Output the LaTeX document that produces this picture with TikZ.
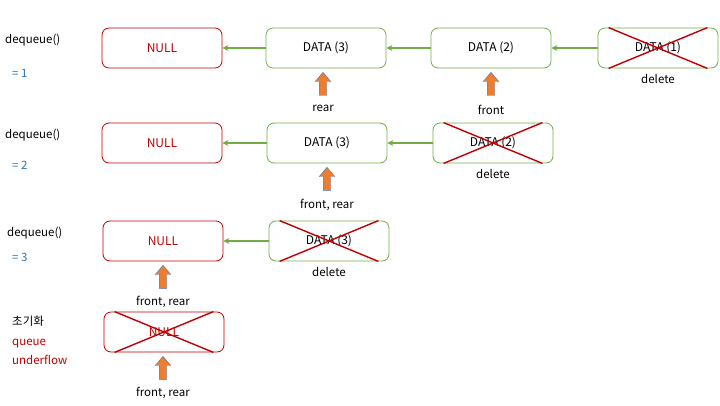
\documentclass[tikz,border=0pt]{standalone}
\usepackage{fontspec}
\setmainfont{Noto Sans CJK KR}
\usetikzlibrary{positioning,shapes.arrows,arrows.meta}
\definecolor{nullred}{HTML}{C00000}
\definecolor{datagreen}{HTML}{70AD47}
\definecolor{ptrorange}{HTML}{ED7D31}
\definecolor{ptrblue}{HTML}{4F72A8}
\definecolor{cntblue}{HTML}{2E75B6}

\tikzset{
  cell/.style={draw, rounded corners=7pt, minimum width=120pt, minimum height=40pt,
    line width=0.8pt, font=\fontsize{12}{14}\selectfont},
  nullcell/.style={cell, draw=nullred, text=nullred},
  datacell/.style={cell, draw=datagreen},
  link/.style={-{Stealth[length=6pt,width=6pt]}, draw=datagreen, line width=1.6pt},
  ptr/.style={single arrow, shape border rotate=90, draw=ptrblue, fill=ptrorange,
    minimum height=23pt, minimum width=15pt, inner sep=3.5pt,
    single arrow head extend=4pt, single arrow tip angle=80},
  tag/.style={font=\fontsize{11.5}{13}\selectfont, inner sep=1pt},
  side/.style={anchor=west, font=\fontsize{11.5}{13}\selectfont, inner sep=0pt},
}
\newcommand{\crossbox}[1]{%
  \draw[nullred, line width=1.4pt] ([xshift=11pt]#1.north west) -- ([xshift=-11pt]#1.south east)
    ([xshift=-11pt]#1.north east) -- ([xshift=11pt]#1.south west);}

\begin{document}
\begin{tikzpicture}[x=1pt, y=-1pt]
  \useasboundingbox (0,0) rectangle (720,405);
  % dequeue 1
  \node[side] (deqA) at (5,40) {dequeue()};
  \node[side, text=cntblue] (cntA) at (12,73) {= 1};
  \node[nullcell] (nullA) at (162,48) {NULL};
  \node[datacell] (dA3) at (326,48) {DATA (3)};
  \node[datacell] (dA2) at (491,48) {DATA (2)};
  \node[datacell] (dA1) at (658,48) {DATA (1)};
  \draw[link] (dA3) -- (nullA);
  \draw[link] (dA2) -- (dA3);
  \draw[link] (dA1) -- (dA2);
  \crossbox{dA1}
  \node[tag, below=5pt of dA1] (delA) {delete};
  \node[ptr] (rearA) at (323,86) {};
  \node[tag, below=8pt of rearA] (rearAt) {rear};
  \node[ptr] (frontA) at (491,86) {};
  \node[tag, below=8pt of frontA] (frontAt) {front};
  % dequeue 2
  \node[side] (deqB) at (5,135) {dequeue()};
  \node[side, text=cntblue] (cntB) at (12,165) {= 2};
  \node[nullcell] (nullB) at (162,143) {NULL};
  \node[datacell] (dB3) at (327,143) {DATA (3)};
  \node[datacell] (dB2) at (493,143) {DATA (2)};
  \draw[link] (dB3) -- (nullB);
  \draw[link] (dB2) -- (dB3);
  \crossbox{dB2}
  \node[tag, below=5pt of dB2] (delB) {delete};
  \node[ptr] (bothB) at (327,181) {};
  \node[tag, below=7pt of bothB] (bothBt) {front, rear};
  % dequeue 3
  \node[side] (deqC) at (7,233) {dequeue()};
  \node[side, text=cntblue] (cntC) at (12,257) {= 3};
  \node[nullcell] (nullC) at (163,241) {NULL};
  \node[datacell] (dC3) at (329,241) {DATA (3)};
  \draw[link] (dC3) -- (nullC);
  \crossbox{dC3}
  \node[tag, below=5pt of dC3] (delC) {delete};
  \node[ptr] (bothC) at (163,279) {};
  \node[tag, below=6pt of bothC] (bothCt) {front, rear};
  % reset
  \node[side] (initD) at (12,321) {초기화};
  \node[side, text=nullred] (uflowD) at (12,344) {queue};
  \node[side, text=nullred] (uflowD2) at (12,360) {underflow};
  \node[nullcell] (nullD) at (164,332) {NULL};
  \crossbox{nullD}
  \node[ptr] (bothD) at (163,370) {};
  \node[tag, below=6pt of bothD] (bothDt) {front, rear};
\end{tikzpicture}
\end{document}
